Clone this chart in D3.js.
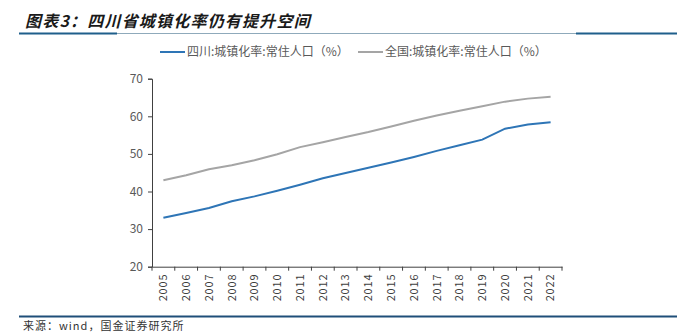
<!DOCTYPE html>
<html><head><meta charset="utf-8">
<script src="https://cdn.jsdelivr.net/npm/d3@7/dist/d3.min.js"></script>
<style>
body{margin:0;background:#fff;}
svg{display:block;}
</style></head>
<body>
<svg id="chart" width="694" height="332"></svg>
<script>
const years = ["2005","2006","2007","2008","2009","2010","2011","2012","2013","2014","2015","2016","2017","2018","2019","2020","2021","2022"];
const sichuan = [33.0,34.3,35.6,37.4,38.7,40.2,41.8,43.5,44.9,46.3,47.7,49.2,50.8,52.3,53.8,56.7,57.8,58.4];
const national = [43.0,44.3,45.9,47.0,48.3,49.9,51.8,53.1,54.5,55.8,57.3,58.8,60.2,61.5,62.7,63.9,64.7,65.2];
const yTicks = [20,30,40,50,60,70];
const seriesNames = ["四川:城镇化率:常住人口（%）","全国:城镇化率:常住人口（%）"];
const title = "图表3：四川省城镇化率仍有提升空间";
const source = "来源：wind，国金证券研究所";

const svg = d3.select("#chart");
const font = "'Microsoft YaHei','Noto Sans CJK SC','Noto Sans',sans-serif";

// title
svg.append("text").attr("x",25).attr("y",27)
  .attr("font-family","'Noto Sans CJK SC',sans-serif").attr("font-weight","bold")
  .attr("font-style","italic").attr("font-size",16).attr("letter-spacing",1.2)
  .attr("fill","#1a1a1a").text(title);
svg.append("line").attr("x1",19).attr("x2",677).attr("y1",33.5).attr("y2",33.5)
  .attr("stroke","#8faabb").attr("stroke-width",1);
svg.append("line").attr("x1",19).attr("x2",117).attr("y1",33.5).attr("y2",33.5)
  .attr("stroke","#1f5f8b").attr("stroke-width",2);
svg.append("line").attr("x1",576).attr("x2",677).attr("y1",33.5).attr("y2",33.5)
  .attr("stroke","#1f5f8b").attr("stroke-width",2);

// footer
svg.append("line").attr("x1",19).attr("x2",677).attr("y1",316.5).attr("y2",316.5)
  .attr("stroke","#1f4e79").attr("stroke-width",2);
svg.append("text").attr("x",23).attr("y",329.5)
  .attr("font-family","'Noto Sans CJK SC',monospace").attr("font-size",11)
  .attr("letter-spacing",1).attr("fill","#333").text(source);

// scales
const x = d3.scaleBand().domain(years).range([152,562]);
const y = d3.scaleLinear().domain([20,70]).range([266.7,78.7]);

// axes
const yAxis = svg.append("g").attr("transform","translate(152,0)")
  .call(d3.axisLeft(y).tickValues(yTicks).tickSize(4).tickPadding(5));
yAxis.select(".domain").attr("stroke","#404040");
yAxis.selectAll(".tick line").attr("stroke","#404040");
yAxis.selectAll("text").attr("font-family",font).attr("font-size",12).attr("fill","#595959");

const xAxis = svg.append("g").attr("transform","translate(0,266.7)")
  .call(d3.axisBottom(x).tickSize(0).tickFormat(""));
xAxis.select(".domain").attr("stroke","#404040");
// boundary ticks
const bounds = years.map(d=>x(d)).concat([x(years[years.length-1])+x.bandwidth()]);
xAxis.selectAll(".bt").data(bounds).join("line").attr("class","bt")
  .attr("x1",d=>d).attr("x2",d=>d).attr("y1",0).attr("y2",4).attr("stroke","#404040");
xAxis.selectAll(".lbl").data(years).join("text").attr("class","lbl")
  .attr("transform",d=>`translate(${x(d)+x.bandwidth()/2},7) rotate(-90)`)
  .attr("text-anchor","end").attr("dy","0.35em")
  .attr("font-family",font).attr("font-size",11).attr("letter-spacing",0.8).attr("fill","#404040")
  .text(d=>d);

// lines
const line = d3.line().x((d,i)=>x(years[i])+x.bandwidth()/2).y(d=>y(d));
svg.append("path").datum(national).attr("d",line).attr("fill","none")
  .attr("stroke","#a5a5a5").attr("stroke-width",2);
svg.append("path").datum(sichuan).attr("d",line).attr("fill","none")
  .attr("stroke","#2e75b6").attr("stroke-width",2);

// legend
const legend = [{name:seriesNames[0],color:"#2e75b6",x:160},{name:seriesNames[1],color:"#a5a5a5",x:358}];
const lg = svg.selectAll(".lg").data(legend).join("g").attr("class","lg")
  .attr("transform",d=>`translate(${d.x},52)`);
lg.append("line").attr("x1",0).attr("x2",25).attr("stroke",d=>d.color).attr("stroke-width",2);
lg.append("text").attr("x",27).attr("dy","0.35em").attr("font-family",font)
  .attr("font-size",12).attr("fill","#595959").text(d=>d.name);
</script>
</body></html>
